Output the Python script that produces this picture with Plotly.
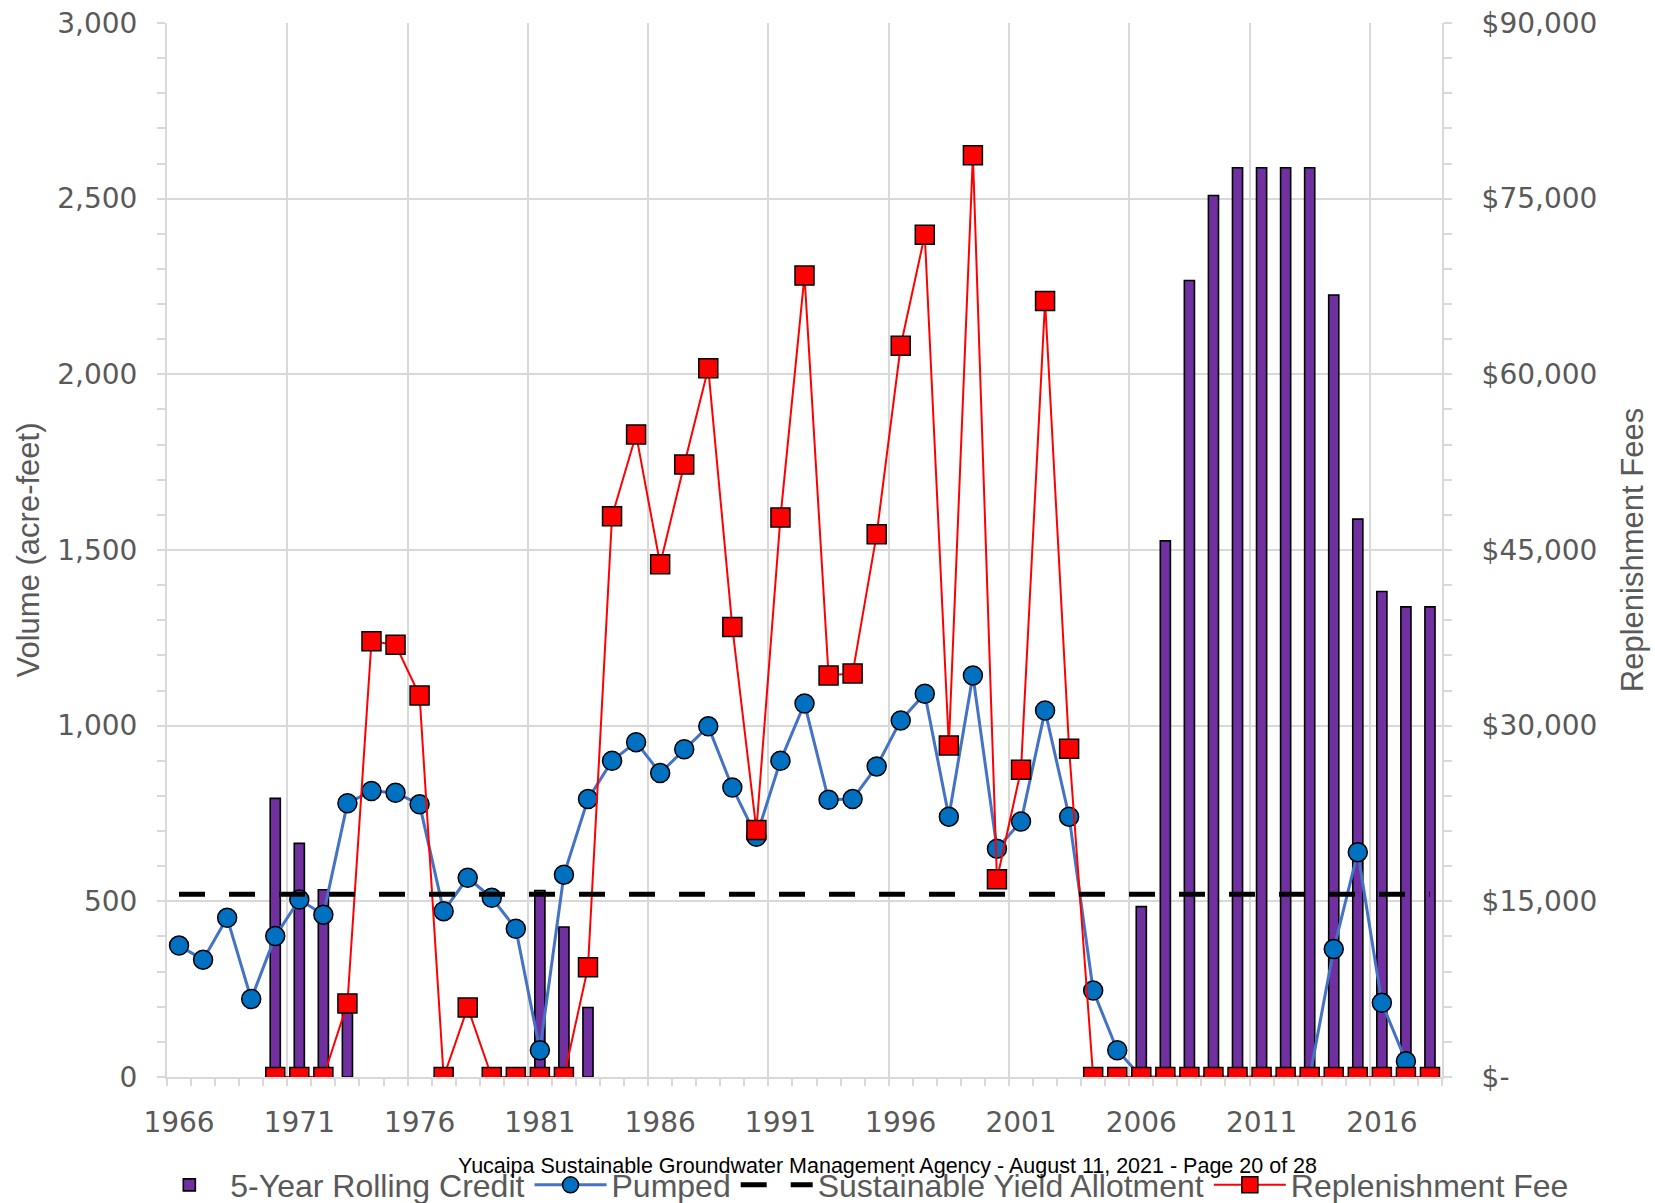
import plotly.graph_objects as go

years = list(range(1966, 2019))

credit = [None, None, None, None, 793, 665, 533, 200, None, None,
          None, None, None, None, None, 531, 427, 198, None, None,
          None, None, None, None, None, None, None, None, None, None,
          None, None, None, None, None, None, None, None, None, None,
          485, 1526, 2267, 2509, 2588, 2588, 2588, 2588, 2226, 1588,
          1382, 1338, 1338]

pumped = [374, 334, 453, 222, 401, 505, 462, 779, 814, 809,
          776, 472, 567, 510, 422, 76, 576, 791, 900, 953,
          865, 933, 998, 824, 684, 900, 1063, 789, 791, 884,
          1015, 1091, 741, 1143, 650, 727, 1043, 741, 246, 76,
          0, 0, 0, 0, 0, 0, 0, 0, 364, 640,
          211, 45, None]

allotment = [520, 520, 520, 520, 520, 520, 520, 520, 520, 520,
             520, 520, 520, 520, 520, 520, 520, 520, 520, 520,
             520, 520, 520, 520, 520, 520, 520, 520, 520, 520,
             520, 520, 520, 520, 520, 520, 520, 520, 520, 520,
             520, 520, 520, 520, 520, 520, 520, 520, 520, 520,
             520, 520, 520]

fees = [None, None, None, None, 0, 0, 0, 6280, 37200, 36910,
        32580, 0, 5940, 0, 0, 0, 0, 9370, 47890, 54870,
        43780, 52300, 60510, 38420, 21090, 47770, 68430, 34290, 34460, 46350,
        62440, 71910, 28310, 78700, 16880, 26230, 66270, 28030, 0, 0,
        0, 0, 0, 0, 0, 0, 0, 0, 0, 0,
        0, 0, 0]

x_label_years = [1966, 1971, 1976, 1981, 1986, 1991, 1996, 2001, 2006, 2011, 2016]
left_ticks = [0, 500, 1000, 1500, 2000, 2500, 3000]
left_labels = ["0", "500", "1,000", "1,500", "2,000", "2,500", "3,000"]
right_ticks = [0, 15000, 30000, 45000, 60000, 75000, 90000]
right_labels = ["$-", "$15,000", "$30,000", "$45,000", "$60,000", "$75,000", "$90,000"]

GRID = "#D9D9D9"
TXT = "#595959"
TICKFONT = dict(family="DejaVu Sans", size=28, color=TXT)
NARROW = "Liberation Sans Narrow, Arial Narrow, Liberation Sans"

fig = go.Figure()

fig.add_trace(go.Bar(
    x=years, y=credit, name="5-Year Rolling Credit",
    width=0.42, legendrank=1,
    marker=dict(color="#7030A0", line=dict(color="black", width=1.6)),
    xaxis="x", yaxis="y",
))

fig.add_trace(go.Scatter(
    x=years, y=allotment, name="Sustainable Yield Allotment",
    mode="lines", legendrank=3,
    line=dict(color="black", width=5, dash="26px,24px"),
    xaxis="x2", yaxis="y",
))

fig.add_trace(go.Scatter(
    x=years, y=pumped, name="Pumped",
    mode="lines+markers", legendrank=2,
    line=dict(color="#4472C4", width=3),
    marker=dict(symbol="circle", size=19, color="#0070C0",
                line=dict(color="black", width=1.5)),
    xaxis="x", yaxis="y",
))

fig.add_trace(go.Scatter(
    x=years, y=fees, name="Replenishment Fee",
    mode="lines+markers", legendrank=4,
    line=dict(color="#FF0000", width=2),
    marker=dict(symbol="square", size=19, color="#FF0000",
                line=dict(color="black", width=1.5)),
    xaxis="x", yaxis="y2",
))

xr = [1965.5, 2018.5]

fig.update_layout(
    width=1655, height=1203,
    margin=dict(l=167, r=213, t=23, b=126, autoexpand=False),
    plot_bgcolor="white", paper_bgcolor="white",
    barmode="overlay",
    showlegend=True,
    legend=dict(
        orientation="h", xref="paper", yref="paper",
        x=1.103, y=-0.1025, xanchor="right", yanchor="middle",
        font=dict(family=NARROW, size=32, color=TXT),
        itemwidth=72,
        bgcolor="rgba(0,0,0,0)",
    ),
    xaxis=dict(
        range=xr, tickmode="array", tickvals=x_label_years,
        ticktext=[str(v) for v in x_label_years],
        showgrid=False, zeroline=False, ticks="",
        showline=True, linecolor=GRID, linewidth=2,
        tickfont=TICKFONT, ticklabelstandoff=19, automargin=False,
    ),
    xaxis2=dict(
        range=xr, overlaying="x", side="bottom",
        tickmode="linear", tick0=1965.5, dtick=5,
        showgrid=True, gridcolor=GRID, gridwidth=2,
        ticks="outside", ticklen=8, tickcolor=GRID, tickwidth=2,
        minor=dict(tickmode="linear", tick0=1965.5, dtick=1, ticks="outside",
                   ticklen=8, tickcolor=GRID, tickwidth=2, showgrid=False),
        showticklabels=False, zeroline=False, showline=False, automargin=False,
    ),
    yaxis=dict(
        range=[0, 3000], tickmode="array", tickvals=left_ticks, ticktext=left_labels,
        showgrid=True, gridcolor=GRID, gridwidth=2,
        showline=True, linecolor=GRID, linewidth=2,
        ticks="outside", ticklen=8, tickcolor=GRID, tickwidth=2,
        minor=dict(tickmode="linear", tick0=0, dtick=100, ticks="outside",
                   ticklen=8, tickcolor=GRID, tickwidth=2, showgrid=False),
        zeroline=False, tickfont=TICKFONT, ticklabelstandoff=14, automargin=False,
        title=dict(text="Volume (acre-feet)", standoff=8,
                   font=dict(family=NARROW, size=31, color=TXT)),
    ),
    yaxis2=dict(
        range=[0, 90000], overlaying="y", side="right",
        tickmode="array", tickvals=right_ticks, ticktext=right_labels,
        showgrid=False, zeroline=False,
        showline=True, linecolor=GRID, linewidth=2,
        ticks="outside", ticklen=8, tickcolor=GRID, tickwidth=2,
        minor=dict(tickmode="linear", tick0=0, dtick=3000, ticks="outside",
                   ticklen=8, tickcolor=GRID, tickwidth=2),
        tickfont=TICKFONT, ticklabelstandoff=24, automargin=False,
        title=dict(text="Replenishment Fees", standoff=25,
                   font=dict(family=NARROW, size=31, color=TXT)),
    ),
    annotations=[dict(
        text="Yucaipa Sustainable Groundwater Management Agency - August 11, 2021 - Page 20 of 28",
        xref="paper", yref="paper", x=0.565, y=-0.0844,
        xanchor="center", yanchor="middle", showarrow=False,
        font=dict(family="Liberation Sans", size=21.5, color="black"),
    )],
)

fig.write_html("out.html", config={"displayModeBar": False},
               post_script="document.body.style.margin='0';document.body.style.overflow='hidden';")
